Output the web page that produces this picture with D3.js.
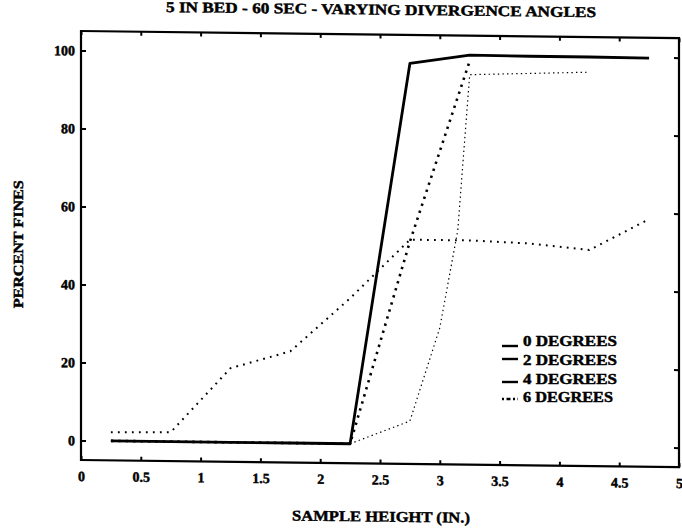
<!DOCTYPE html>
<html>
<head>
<meta charset="utf-8">
<script src="https://cdn.jsdelivr.net/npm/d3@7"></script>
<style>
  body { margin: 0; background: #fff; }
  svg { display: block; }
  text { font-family: "Liberation Serif", "DejaVu Serif", serif; font-weight: bold; fill: #000; stroke: #000; stroke-width: 0.45px; }
</style>
</head>
<body>
<script>
// sample heights (in.) and percent fines
const heights = [0.25, 0.75, 1.25, 1.75, 2.25, 2.75, 3.25, 3.75, 4.25, 4.75];
const deg0 = [0, 0, 0, 0, 0, 97.7, 100, 99.9, 99.9, 99.8];
const deg2Heights = [0.25, 0.75, 1.25, 1.75, 2.25, 2.75, 3.25];
const deg2 = [0, 0, 0, 0, 0, 52, 98.5];
const deg4Heights = [0.25, 0.75, 1.25, 1.75, 2.25, 2.75, 3.0, 3.15, 3.25, 3.75, 4.25];
const deg4 = [0, 0, 0, 0, 0, 6, 30, 55, 95, 95.5, 96];
const deg6 = [2.2, 2.4, 19, 23.5, 37.3, 52.5, 52.5, 51.9, 50.4, 58.5];

const legendLabels = ["0 DEGREES", "2 DEGREES", "4 DEGREES", "6 DEGREES"];
const xTicks = [0, 0.5, 1, 1.5, 2, 2.5, 3, 3.5, 4, 4.5, 5];
const yTicks = [0, 20, 40, 60, 80, 100];

const series = [
  { name: legendLabels[3], xs: heights, ys: deg6, width: 2, dash: "1.8,5.2" },
  { name: legendLabels[2], xs: deg4Heights, ys: deg4, width: 1.2, dash: "1.4,3.2" },
  { name: legendLabels[1], xs: deg2Heights, ys: deg2, width: 2.6, dash: "2.4,5" },
  { name: legendLabels[0], xs: heights, ys: deg0, width: 2.8, dash: null }
];

const width = 682, height = 531;
const skew = 0.012; // the scan is slightly sheared

const svg = d3.select("body").append("svg")
  .attr("width", width)
  .attr("height", height);

svg.append("rect").attr("width", width).attr("height", height).attr("fill", "#fff");

const g = svg.append("g")
  .attr("transform", `matrix(1,${skew},0,1,0,${-81 * skew})`);

const x = d3.scaleLinear().domain([0, 5]).range([81, 679]);
const y = d3.scaleLinear().domain([-5, 105]).range([460, 31]);

function styleAxis(sel) {
  sel.select(".domain").remove();
  sel.selectAll(".tick line").attr("stroke", "#000").attr("stroke-width", 2);
  sel.selectAll(".tick text").style("font-size", "14px");
}

g.append("g")
  .attr("transform", `translate(0,${y(-5)})`)
  .call(d3.axisBottom(x).tickValues(xTicks).tickSize(-4).tickPadding(11).tickFormat(d3.format("")))
  .call(styleAxis);

g.append("g")
  .attr("transform", `translate(0,${y(105)})`)
  .call(d3.axisTop(x).tickValues(xTicks).tickSize(-4).tickFormat(""))
  .call(styleAxis);

g.append("g")
  .attr("transform", `translate(${x(0)},0)`)
  .call(d3.axisLeft(y).tickValues(yTicks).tickSize(-5).tickPadding(6))
  .call(styleAxis);

g.append("g")
  .attr("transform", `translate(${x(5)},0)`)
  .call(d3.axisRight(y).tickValues(yTicks).tickSize(-5).tickFormat(""))
  .call(styleAxis);

// box
g.append("rect")
  .attr("x", x(0))
  .attr("y", y(105))
  .attr("width", x(5) - x(0))
  .attr("height", y(-5) - y(105))
  .attr("fill", "none")
  .attr("stroke", "#000")
  .attr("stroke-width", 2.2);

const line = d3.line()
  .x(d => x(d[0]))
  .y(d => y(d[1]));

g.append("g").selectAll("path")
  .data(series)
  .join("path")
  .attr("d", s => line(s.xs.map((h, i) => [h, s.ys[i]])))
  .attr("fill", "none")
  .attr("stroke", "#000")
  .attr("stroke-width", s => s.width)
  .attr("stroke-dasharray", s => s.dash)
  .attr("stroke-linejoin", "round");

// titles
g.append("text")
  .attr("x", 381)
  .attr("y", 11)
  .attr("text-anchor", "middle")
  .attr("textLength", 430)
  .attr("lengthAdjust", "spacingAndGlyphs")
  .style("font-size", "15px")
  .text("5 IN BED - 60 SEC - VARYING DIVERGENCE ANGLES");

g.append("text")
  .attr("x", 381)
  .attr("y", 518)
  .attr("text-anchor", "middle")
  .attr("textLength", 178)
  .attr("lengthAdjust", "spacingAndGlyphs")
  .style("font-size", "15px")
  .text("SAMPLE HEIGHT (IN.)");

g.append("text")
  .attr("transform", "translate(23,245) rotate(-90)")
  .attr("text-anchor", "middle")
  .attr("textLength", 128)
  .attr("lengthAdjust", "spacingAndGlyphs")
  .style("font-size", "14px")
  .text("PERCENT FINES");

// legend
const legendRows = [
  { label: legendLabels[0], ty: 346, ly: 346, dash: null },
  { label: legendLabels[1], ty: 365, ly: 359, dash: null },
  { label: legendLabels[2], ty: 384, ly: 382, dash: null },
  { label: legendLabels[3], ty: 402, ly: 399, dash: "2,2.5,4,2.5" }
];

const legend = svg.append("g");
const rows = legend.selectAll("g").data(legendRows).join("g");

rows.append("line")
  .attr("x1", 502).attr("x2", 518)
  .attr("y1", d => d.ly).attr("y2", d => d.ly)
  .attr("stroke", "#000")
  .attr("stroke-width", 2.4)
  .attr("stroke-dasharray", d => d.dash);

rows.append("text")
  .attr("x", 523)
  .attr("y", d => d.ty)
  .attr("textLength", (d, i) => i === 3 ? 90 : 94)
  .attr("lengthAdjust", "spacingAndGlyphs")
  .style("font-size", "14px")
  .text(d => d.label);
</script>
</body>
</html>
